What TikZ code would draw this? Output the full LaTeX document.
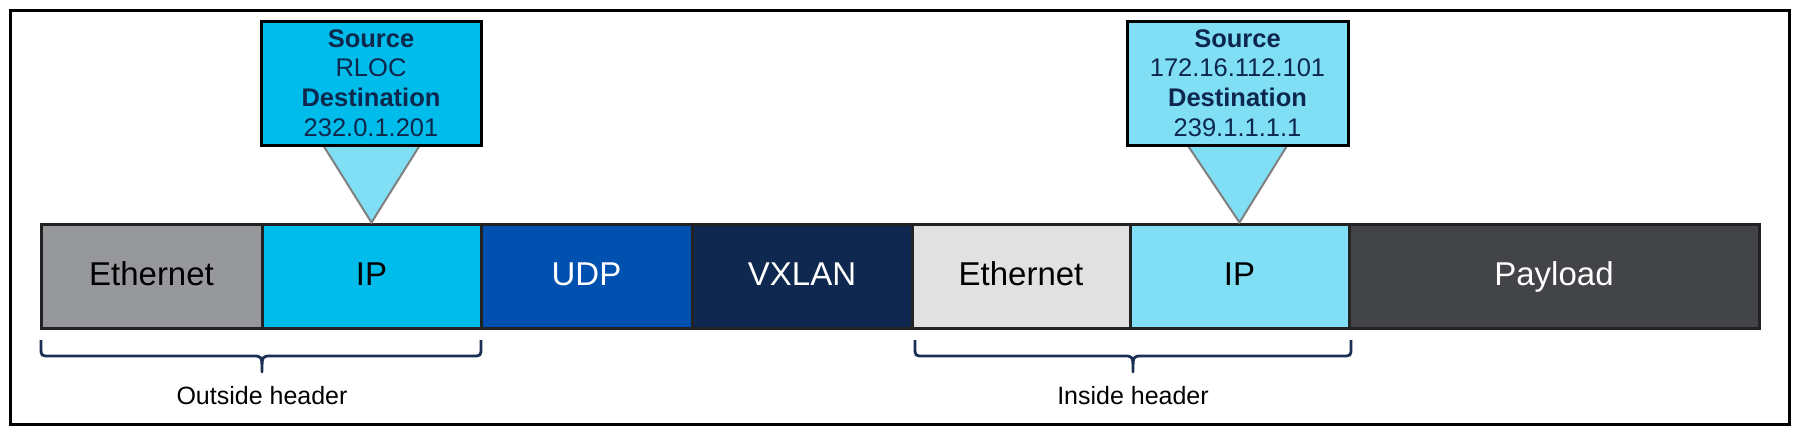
\documentclass[tikz,border=0pt]{standalone}
\usepackage{fontspec}
\setmainfont{Liberation Sans}
\usetikzlibrary{calc}
\definecolor{ethgray}{HTML}{97989B}
\definecolor{cyanA}{HTML}{00BCEB}
\definecolor{cyanB}{HTML}{80DEF5}
\definecolor{udpblue}{HTML}{0051AF}
\definecolor{vxnavy}{HTML}{0F2850}
\definecolor{lightgray}{HTML}{E1E1E1}
\definecolor{payloadgray}{HTML}{434447}
\definecolor{textnavy}{HTML}{0D274D}
\definecolor{bracenavy}{HTML}{1B2F55}
\definecolor{edgedark}{HTML}{222222}
\definecolor{trigray}{HTML}{808080}
\begin{document}
\begin{tikzpicture}[x=0.5pt,y=-0.5pt,
  cell/.style={draw=edgedark, line width=1.5pt, minimum height=52pt, inner sep=0pt,
    font=\fontsize{16.5}{19}\selectfont, text height=11.8pt, text depth=2pt},
  callout/.style={draw=black, line width=1.5pt, minimum height=62pt, inner sep=0pt,
    align=center, text=textnavy, font=\fontsize{12.75}{14.85}\selectfont},
  tri/.style={fill=cyanB},
  triedge/.style={draw=trigray, line width=1pt},
  bracepath/.style={draw=bracenavy, line width=1.4pt, line join=round},
  bracelabel/.style={font=\fontsize{12.5}{15}\selectfont, text=black}
]
\useasboundingbox (0,0) rectangle (1800,435);
\fill[white] (0,0) rectangle (1800,435);
\draw[line width=1.5pt, draw=black] (10,10) rectangle (1789,424);

% bar cells
\node[cell, fill=ethgray, minimum width=110.5pt] (eth1) at (151.5,276) {Ethernet};
\node[cell, fill=cyanA, minimum width=109.5pt] (ip1) at (371.5,276) {IP};
\node[cell, fill=udpblue, text=white, minimum width=105.5pt] (udp) at (586.5,276) {UDP};
\node[cell, fill=vxnavy, text=white, minimum width=110pt] (vxlan) at (802,276) {VXLAN};
\node[cell, fill=lightgray, minimum width=109pt] (eth2) at (1021,276) {Ethernet};
\node[cell, fill=cyanB, minimum width=109.5pt] (ip2) at (1239.5,276) {IP};
\node[cell, fill=payloadgray, text=white, minimum width=205pt] (payload) at (1554,276) {Payload};

% callout positions
\path (371,83) coordinate (c1pos) (1237.5,83) coordinate (c2pos);
\coordinate (c1bl) at ($(c1pos)+(-48,62)$);
\coordinate (c1br) at ($(c1pos)+(49,62)$);
\coordinate (c2bl) at ($(c2pos)+(-50,62)$);
\coordinate (c2br) at ($(c2pos)+(50,62)$);

% triangles
\fill[tri] (c1bl) -- (ip1.north) -- (c1br) -- cycle;
\draw[triedge] (c1bl) -- (ip1.north) -- (c1br);
\fill[tri] (c2bl) -- (ip2.north) -- (c2br) -- cycle;
\draw[triedge] (c2bl) -- (ip2.north) -- (c2br);

\node[callout, fill=cyanA, minimum width=110pt] (c1) at (c1pos)
  {\textbf{Source}\\RLOC\\\textbf{Destination}\\232.0.1.201};
\node[callout, fill=cyanB, minimum width=110.5pt] (c2) at (c2pos)
  {\textbf{Source}\\172.16.112.101\\\textbf{Destination}\\239.1.1.1.1};

% braces
\draw[bracepath] (41,340) -- (41,347) .. controls (41,356) .. (50,356) -- (253,356)
  .. controls (262,356) .. (262,372) .. controls (262,356) .. (271,356) -- (472,356)
  .. controls (481,356) .. (481,347) -- (481,340);
\draw[bracepath] (915,340) -- (915,347) .. controls (915,356) .. (924,356) -- (1124,356)
  .. controls (1133,356) .. (1133,372) .. controls (1133,356) .. (1142,356) -- (1342,356)
  .. controls (1351,356) .. (1351,347) -- (1351,340);

\node[bracelabel] (outlbl) at (262,396) {Outside header};
\node[bracelabel] (inlbl) at (1133,396) {Inside header};
\end{tikzpicture}
\end{document}
